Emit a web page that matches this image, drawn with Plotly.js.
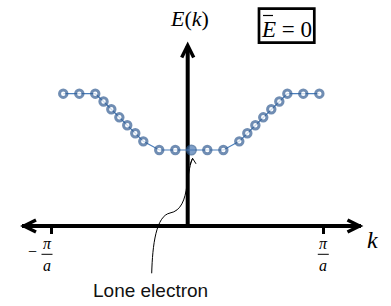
<!DOCTYPE html>
<html><head><meta charset="utf-8">
<script src="https://cdn.plot.ly/plotly-3.0.1.min.js"></script>
<style>html,body{margin:0;padding:0;background:#fff;}#chart{width:391px;height:306px;}</style>
</head><body><div id="chart"></div>
<script>
// k in units of pi/a, E in arbitrary units (band bottom = 1)
const kVals = [-0.910,-0.792,-0.675,-0.614,-0.557,-0.498,-0.440,-0.381,-0.322,-0.205,-0.087,0.031,0.148,0.266,0.383,0.442,0.501,0.559,0.618,0.677,0.736,0.853,0.971];
const eVals = [1.741,1.741,1.741,1.638,1.536,1.430,1.325,1.220,1.114,1.000,1.000,1.000,1.000,1.000,1.114,1.220,1.325,1.430,1.536,1.638,1.741,1.741,1.741];
const loneIndex = 11;
const tickVals = [-1, 1];
const tickSigns = ['\u2212', ''];
const tickNums = ['\u03c0', '\u03c0'];
const tickDens = ['a', 'a'];
const yTitle = '<i>E</i>(<i>k</i>)';
const xTitle = '<i>k</i>';
const boxText = '<i>E</i> = 0';
const calloutText = 'Lone electron';

const W = 391, H = 306;
const X = p => p / W, Y = p => 1 - p / H;
const conv = s => s.replace(/(-?[\d.]+),(-?[\d.]+)/g, (m, a, b) => X(+a).toFixed(5) + ',' + Y(+b).toFixed(5));

const ringCol = '#345e93', fillCol = '#4a78b3';
const trace = {
  x: kVals, y: eVals, type: 'scatter', mode: 'lines+markers',
  line: {color: '#4a7ebb', width: 1.2},
  marker: {
    symbol: 'circle',
    size: kVals.map((_, i) => i === loneIndex ? 9.5 : 7.4),
    color: kVals.map((_, i) => i === loneIndex ? fillCol : '#ffffff'),
    line: {color: kVals.map((_, i) => i === loneIndex ? '#2f5b8f' : ringCol),
           width: kVals.map((_, i) => i === loneIndex ? 1.5 : 3)}
  },
  hoverinfo: 'skip'
};

const blk = '#000';
const shapes = [
  {type:'line', xref:'paper', yref:'paper', x0:X(22), x1:X(361), y0:Y(226), y1:Y(226), line:{color:blk,width:4}, layer:'below'},
  {type:'line', xref:'paper', yref:'paper', x0:X(187.7), x1:X(187.7), y0:Y(226), y1:Y(46), line:{color:blk,width:4}, layer:'below'},
  {type:'path', xref:'paper', yref:'paper', path:conv('M36,220 L24,226 L36,232'), line:{color:blk,width:3.5}, layer:'below'},
  {type:'path', xref:'paper', yref:'paper', path:conv('M347.5,220 L359.5,226 L347.5,232'), line:{color:blk,width:3.5}, layer:'below'},
  {type:'path', xref:'paper', yref:'paper', path:conv('M181.7,57.5 L187.7,45.5 L193.7,57.5'), line:{color:blk,width:3.5}, layer:'below'},
  {type:'rect', xref:'paper', yref:'paper', x0:X(259), x1:X(314.3), y0:Y(8.7), y1:Y(42.7), line:{color:blk,width:2.7}},
  {type:'line', xref:'paper', yref:'paper', x0:X(263), x1:X(273), y0:Y(15.5), y1:Y(15.5), line:{color:blk,width:1.2}},
  {type:'path', xref:'paper', yref:'paper', path:conv('M151.7,273.3 C152.5,245 156,216 170,213 C181,211 185,200 187,185 C188.5,172 190.5,163 192.5,158.5'), line:{color:blk,width:1}},
  {type:'path', xref:'paper', yref:'paper', path:conv('M190,164.5 L192.6,158.3 L196,163.8'), line:{color:blk,width:1}}
];

const serif = 'Liberation Serif';
const annotations = [];
tickVals.forEach((v, i) => {
  const sh = tickSigns[i] ? -4 : 0;
  annotations.push({xref:'x', yref:'paper', x:v, y:Y(243), xshift:sh, text:'<i>'+tickNums[i]+'</i>', showarrow:false, font:{family:serif,size:16,color:blk}, xanchor:'center', yanchor:'middle'});
  annotations.push({xref:'x', yref:'paper', x:v, y:Y(265.4), xshift:sh, text:'<i>'+tickDens[i]+'</i>', showarrow:false, font:{family:serif,size:16,color:blk}, xanchor:'center', yanchor:'middle'});
  if (tickSigns[i]) annotations.push({xref:'x', yref:'paper', x:v, y:Y(251.4), xshift:-18.5, text:tickSigns[i], showarrow:false, font:{family:serif,size:16,color:blk}, xanchor:'center', yanchor:'middle'});
  shapes.push({type:'line', xref:'x', xsizemode:'pixel', xanchor:v, x0:sh-5.5, x1:sh+5.5, yref:'paper', y0:Y(254.3), y1:Y(254.3), line:{color:blk,width:1}});
});
annotations.push({xref:'paper', yref:'paper', x:X(189), y:Y(18), text:yTitle, showarrow:false, font:{family:serif,size:22,color:blk}, xanchor:'center', yanchor:'middle'});
annotations.push({xref:'paper', yref:'paper', x:X(372.5), y:Y(240.3), text:xTitle, showarrow:false, font:{family:serif,size:24,color:blk}, xanchor:'center', yanchor:'middle'});
annotations.push({xref:'paper', yref:'paper', x:X(286.5), y:Y(29), text:boxText, showarrow:false, font:{family:serif,size:23,color:blk}, xanchor:'center', yanchor:'middle'});
annotations.push({xref:'paper', yref:'paper', x:X(150.5), y:Y(290.1), text:calloutText, showarrow:false, font:{family:'Liberation Sans',size:19,color:'#111'}, xanchor:'center', yanchor:'middle'});

const layout = {
  width: W, height: H, autosize: false,
  margin: {l:0, r:0, t:0, b:0, pad:0},
  paper_bgcolor: '#fff', plot_bgcolor: '#fff',
  showlegend: false,
  xaxis: {range: [-1.3746, 1.4973], anchor: 'free', position: (H - 226) / H,
          showgrid: false, zeroline: false, showline: false,
          tickmode: 'array', tickvals: tickVals, ticks: 'outside', ticklen: 7, tickwidth: 3, tickcolor: blk,
          showticklabels: false, fixedrange: true},
  yaxis: {range: [-1.0526, 2.9737], visible: false, fixedrange: true},
  shapes: shapes,
  annotations: annotations
};
Plotly.newPlot('chart', [trace], layout, {staticPlot: true, displayModeBar: false});
</script>
</body></html>
